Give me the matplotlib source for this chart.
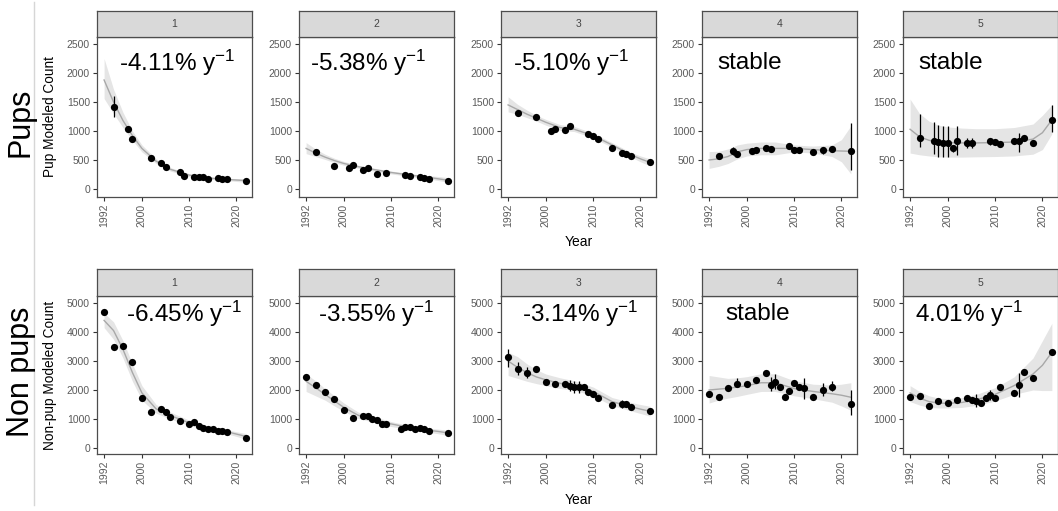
import matplotlib
matplotlib.use("Agg")
import matplotlib.pyplot as plt
from matplotlib.lines import Line2D

plt.rcParams["font.family"] = ["Liberation Sans", "DejaVu Sans"]
plt.rcParams["mathtext.fontset"] = "custom"
plt.rcParams["mathtext.rm"] = "Liberation Sans"
plt.rcParams["mathtext.it"] = "Liberation Sans"

regions = ["1", "2", "3", "4", "5"]
fit_year = [1992, 1994, 1996, 1998, 2000, 2003, 2006, 2010, 2014, 2018, 2020, 2022]

# ---- pups ----
pup_year = [
    [1994, 1997, 1998, 2002, 2004, 2005, 2008, 2009, 2011, 2012, 2013, 2014, 2016, 2017, 2018, 2022],
    [1994, 1998, 2001, 2002, 2004, 2005, 2007, 2009, 2013, 2014, 2016, 2017, 2018, 2022],
    [1994, 1998, 2001, 2002, 2004, 2005, 2009, 2010, 2011, 2014, 2016, 2017, 2018, 2022],
    [1994, 1997, 1998, 2001, 2002, 2004, 2005, 2009, 2010, 2011, 2014, 2016, 2018, 2022],
    [1994, 1997, 1998, 1999, 2000, 2001, 2002, 2004, 2005, 2009, 2010, 2011, 2014, 2015, 2016, 2018, 2022],
]
pup_count = [
    [1420, 1035, 855, 530, 440, 375, 285, 230, 200, 200, 200, 170, 195, 175, 175, 140],
    [632, 402, 362, 408, 328, 362, 264, 276, 236, 230, 207, 190, 180, 138],
    [1317, 1248, 1000, 1035, 1018, 1081, 949, 914, 857, 713, 621, 605, 570, 460],
    [563, 650, 604, 661, 673, 707, 690, 736, 667, 679, 632, 667, 684, 655],
    [885, 828, 805, 788, 788, 701, 822, 788, 788, 822, 810, 776, 828, 828, 874, 788, 1190],
]
pup_fit = [
    [1880, 1500, 1180, 920, 700, 480, 340, 240, 190, 165, 155, 145],
    [700, 620, 550, 490, 440, 385, 340, 285, 240, 200, 175, 150],
    [1450, 1370, 1290, 1220, 1150, 1060, 1030, 920, 760, 590, 520, 460],
    [500, 520, 560, 640, 680, 700, 700, 700, 680, 660, 655, 650],
    [1030, 900, 840, 810, 800, 795, 795, 800, 810, 860, 970, 1190],
]
pup_lo = [
    [1560, 1300, 1060, 840, 640, 440, 310, 215, 170, 145, 130, 115],
    [610, 560, 510, 455, 410, 360, 315, 260, 215, 170, 145, 115],
    [1330, 1290, 1230, 1170, 1100, 1010, 990, 880, 720, 550, 470, 400],
    [355, 390, 440, 520, 570, 590, 590, 640, 620, 560, 470, 260],
    [620, 590, 570, 555, 550, 550, 555, 560, 570, 600, 680, 950],
]
pup_hi = [
    [2250, 1720, 1320, 1000, 760, 520, 370, 265, 210, 185, 180, 175],
    [800, 690, 600, 530, 475, 410, 365, 310, 265, 230, 215, 195],
    [1590, 1460, 1360, 1270, 1200, 1110, 1080, 960, 800, 630, 570, 520],
    [645, 650, 690, 760, 790, 810, 810, 760, 740, 760, 850, 1090],
    [1550, 1300, 1170, 1100, 1070, 1050, 1040, 1040, 1060, 1120, 1270, 1450],
]
pup_err_year = [
    [1994],
    [],
    [],
    [1997, 2004, 2016, 2018, 2022],
    [1994, 1997, 1998, 1999, 2000, 2001, 2002, 2004, 2005, 2009, 2015, 2022],
]
pup_err_lo = [
    [1250], [], [],
    [580, 650, 610, 630, 330],
    [720, 600, 560, 560, 550, 640, 580, 700, 700, 760, 640, 990],
]
pup_err_hi = [
    [1600], [], [],
    [720, 760, 720, 740, 1130],
    [1300, 1150, 1110, 1090, 1090, 760, 1080, 880, 880, 880, 960, 1450],
]
pup_label = ["-4.11% y$^{-1}$", "-5.38% y$^{-1}$", "-5.10% y$^{-1}$", "stable", "stable"]

# ---- non pups ----
non_year = [
    [1992, 1994, 1996, 1998, 2000, 2002, 2004, 2005, 2006, 2008, 2010, 2011, 2012, 2013, 2014, 2015, 2016, 2017, 2018, 2022],
    [1992, 1994, 1996, 1998, 2000, 2002, 2004, 2005, 2006, 2007, 2008, 2009, 2012, 2013, 2014, 2015, 2016, 2017, 2018, 2022],
    [1992, 1994, 1996, 1998, 2000, 2002, 2004, 2005, 2006, 2007, 2008, 2009, 2010, 2011, 2014, 2016, 2017, 2018, 2022],
    [1992, 1994, 1996, 1998, 2000, 2002, 2004, 2005, 2006, 2007, 2008, 2009, 2010, 2011, 2012, 2014, 2016, 2018, 2022],
    [1992, 1994, 1996, 1998, 2000, 2002, 2004, 2005, 2006, 2007, 2008, 2009, 2010, 2011, 2014, 2015, 2016, 2018, 2022],
]
non_count = [
    [4699, 3493, 3527, 2976, 1735, 1241, 1344, 1241, 1080, 931, 827, 885, 770, 700, 640, 640, 600, 580, 550, 360],
    [2447, 2172, 1942, 1689, 1310, 1046, 1115, 1092, 988, 965, 827, 839, 666, 712, 735, 655, 700, 640, 590, 530],
    [3125, 2712, 2597, 2723, 2264, 2195, 2195, 2149, 2091, 2091, 2114, 1942, 1873, 1735, 1482, 1505, 1500, 1425, 1265],
    [1873, 1769, 2068, 2218, 2195, 2355, 2574, 2183, 2287, 2114, 1758, 1976, 2229, 2103, 2057, 1746, 2011, 2091, 1517],
    [1758, 1792, 1448, 1632, 1563, 1643, 1712, 1666, 1620, 1540, 1735, 1827, 1735, 2114, 1907, 2183, 2620, 2413, 3309],
]
non_fit = [
    [4400, 4050, 3400, 2600, 1900, 1350, 1120, 870, 690, 560, 480, 400],
    [2300, 2080, 1850, 1620, 1400, 1130, 1000, 830, 700, 610, 570, 520],
    [3000, 2780, 2600, 2450, 2350, 2230, 2150, 1950, 1600, 1420, 1340, 1270],
    [2000, 2030, 2060, 2100, 2150, 2250, 2250, 2050, 1950, 1870, 1820, 1750],
    [1900, 1720, 1600, 1550, 1540, 1570, 1660, 1850, 2150, 2550, 2850, 3300],
]
non_lo = [
    [4150, 3750, 3100, 2300, 1650, 1200, 1000, 780, 620, 490, 400, 300],
    [1950, 1800, 1650, 1450, 1260, 1020, 900, 740, 630, 540, 490, 430],
    [2500, 2400, 2300, 2220, 2150, 2050, 1990, 1800, 1460, 1280, 1190, 1100],
    [1550, 1650, 1720, 1780, 1850, 1950, 1950, 1800, 1700, 1580, 1450, 1300],
    [1600, 1480, 1400, 1380, 1380, 1400, 1470, 1620, 1850, 2000, 1980, 1980],
]
non_hi = [
    [4650, 4350, 3700, 2900, 2150, 1500, 1240, 960, 760, 630, 560, 500],
    [2550, 2320, 2050, 1800, 1550, 1240, 1100, 910, 770, 680, 650, 610],
    [3300, 3150, 2900, 2700, 2550, 2420, 2320, 2100, 1740, 1570, 1500, 1440],
    [2500, 2450, 2400, 2420, 2460, 2560, 2560, 2320, 2200, 2170, 2200, 2250],
    [2150, 1950, 1800, 1720, 1700, 1740, 1850, 2080, 2450, 3100, 3700, 4300],
]
non_err_year = [
    [],
    [],
    [1992, 1994, 1996, 2005, 2006, 2007, 2016],
    [1998, 2005, 2006, 2012, 2016, 2018, 2022],
    [2006, 2009, 2015],
]
non_err_lo = [
    [], [],
    [2800, 2500, 2420, 1950, 1900, 1900, 1380],
    [2100, 1950, 2050, 1700, 1800, 1950, 1140],
    [1400, 1650, 1770],
]
non_err_hi = [
    [], [],
    [3430, 2950, 2780, 2350, 2300, 2300, 1650],
    [2400, 2450, 2550, 2400, 2250, 2300, 2000],
    [1850, 2000, 2580],
]
non_label = ["-6.45% y$^{-1}$", "-3.55% y$^{-1}$", "-3.14% y$^{-1}$", "stable", "4.01% y$^{-1}$"]

W, H = 1058, 511
fig = plt.figure(figsize=(W / 100, H / 100), dpi=100)

lefts = [97, 299, 501, 702, 903]
pw = 155

rows = [
    dict(top=37, bottom=197, strip=26, ylim=(-138, 2621), yticks=[0, 500, 1000, 1500, 2000, 2500],
         year=pup_year, count=pup_count, fit=pup_fit, lo=pup_lo, hi=pup_hi,
         ey=pup_err_year, el=pup_err_lo, eh=pup_err_hi, lab=pup_label,
         lx=[0.14, 0.07, 0.08, 0.10, 0.10], ly=0.84),
    dict(top=296, bottom=454, strip=27, ylim=(-207, 5241), yticks=[0, 1000, 2000, 3000, 4000, 5000],
         year=non_year, count=non_count, fit=non_fit, lo=non_lo, hi=non_hi,
         ey=non_err_year, el=non_err_lo, eh=non_err_hi, lab=non_label,
         lx=[0.19, 0.12, 0.135, 0.15, 0.08], ly=0.885),
]

for r in rows:
    for i in range(5):
        x0 = lefts[i] / W
        y0 = 1 - r["bottom"] / H
        h = (r["bottom"] - r["top"]) / H
        ax = fig.add_axes([x0, y0, pw / W, h])
        ax.fill_between(fit_year, r["lo"][i], r["hi"][i], color="#e5e5e5", lw=0)
        ax.plot(fit_year, r["fit"][i], color="#a8a8a8", lw=1.0)
        ax.vlines(r["ey"][i], r["el"][i], r["eh"][i], color="black", lw=0.9)
        ax.plot(r["year"][i], r["count"][i], "o", color="black", ms=5.2, mew=0)
        ax.set_xlim(1990.5, 2023.3)
        ax.set_ylim(*r["ylim"])
        ax.set_xticks([1992, 2000, 2010, 2020])
        ax.set_yticks(r["yticks"])
        ax.tick_params(direction="out", length=3, width=0.8, colors="#333333",
                       labelcolor="#5a5a5a", labelsize=7.5, pad=2)
        ax.tick_params(axis="x", labelrotation=90)
        for s in ax.spines.values():
            s.set_color("#4d4d4d")
            s.set_linewidth(0.9)
        ax.text(r["lx"][i], r["ly"], r["lab"][i], transform=ax.transAxes,
                fontsize=17.5, ha="left", va="center", color="black")

        # facet strip
        sax = fig.add_axes([x0, 1 - r["top"] / H, pw / W, r["strip"] / H])
        sax.set_facecolor("#d9d9d9")
        sax.set_xticks([])
        sax.set_yticks([])
        for s in sax.spines.values():
            s.set_color("#4d4d4d")
            s.set_linewidth(0.9)
        sax.text(0.5, 0.5, regions[i], ha="center", va="center", fontsize=7.5, color="#444444")

fig.text(50 / W, 1 - 117 / H, "Pup Modeled Count", rotation=90, ha="center", va="center", fontsize=9.8)
fig.text(50 / W, 1 - 375 / H, "Non-pup Modeled Count", rotation=90, ha="center", va="center", fontsize=9.8)
fig.text(579 / W, 1 - 242 / H, "Year", ha="center", va="center", fontsize=10)
fig.text(579 / W, 1 - 500 / H, "Year", ha="center", va="center", fontsize=10)
fig.text(21 / W, 1 - 122 / H, "Pups", rotation=90, ha="center", va="center", fontsize=22)
fig.text(21 / W, 1 - 372 / H, "Non pups", rotation=90, ha="center", va="center", fontsize=22)
fig.add_artist(Line2D([34 / W, 34 / W], [1 - 2 / H, 1 - 505 / H], color="#d6d6d6", lw=1))

fig.savefig("out.png", dpi=100)
